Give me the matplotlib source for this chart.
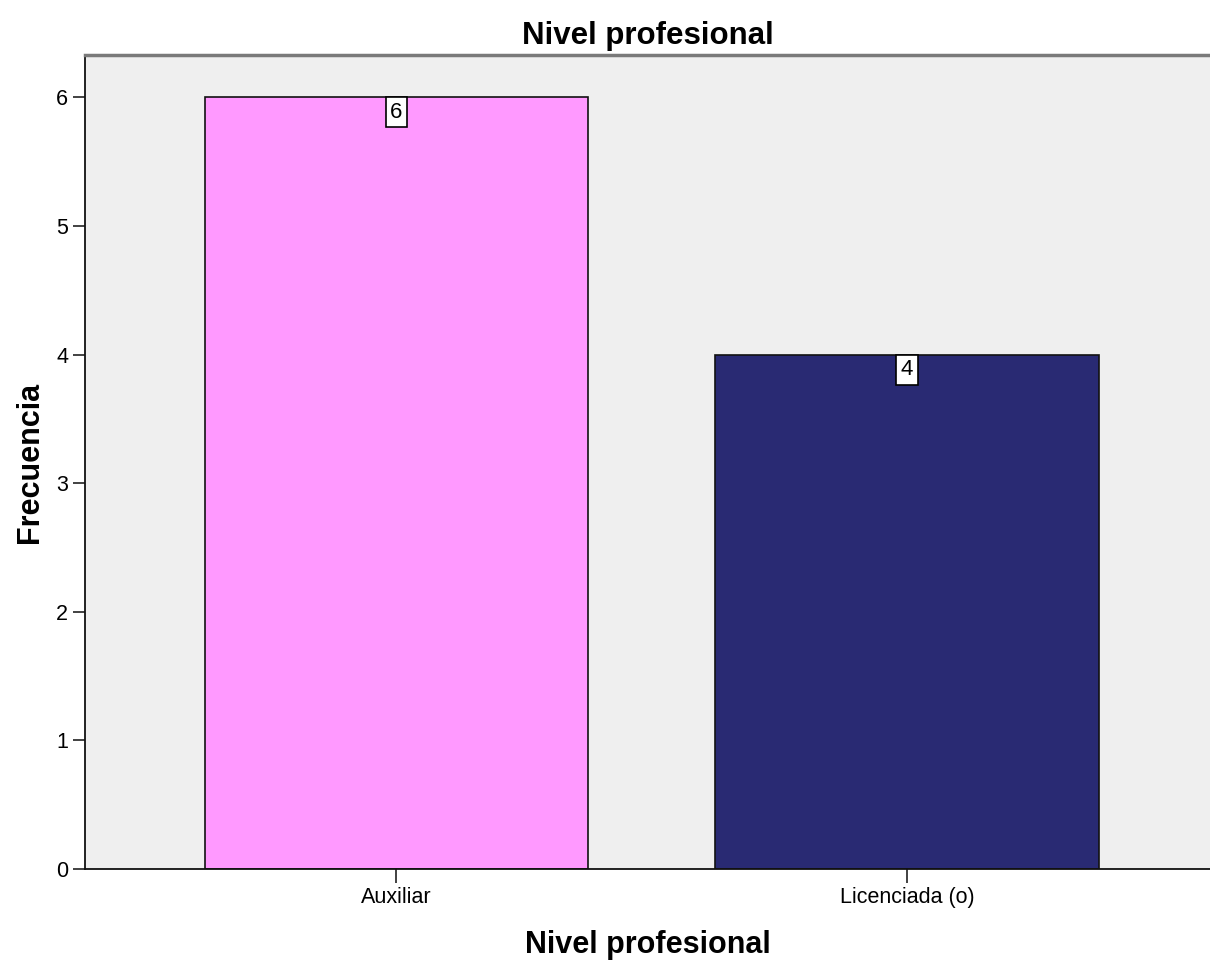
import matplotlib.pyplot as plt
import numpy as np

# data
categorias = ['Auxiliar', 'Licenciada (o)']
frecuencias = [6, 4]
colores = ['#FF99FF', '#292A73']

plt.rcParams['font.family'] = ['Liberation Sans', 'DejaVu Sans']

fig = plt.figure(figsize=(12.1, 9.61), dpi=100)
ax = fig.add_axes([85 / 1210, 1 - 869 / 961, 1 - 85 / 1210, (869 - 55) / 961])
ax.set_facecolor('#EFEFEF')

x = np.arange(len(categorias))
bars = ax.bar(x, frecuencias, width=0.75, color=colores, edgecolor='#111111', linewidth=1.2, zorder=2)

# value labels in small white boxes at the top of each bar
for xi, v in zip(x, frecuencias):
    ax.text(xi, v - 0.035, str(v), ha='center', va='top', fontsize=16, zorder=3,
            family=['Liberation Sans Narrow', 'Liberation Sans', 'DejaVu Sans'],
            bbox=dict(boxstyle='square,pad=0.2', facecolor='white', edgecolor='black', linewidth=1.2))

ax.set_xlim(-0.609, 1.593)
ax.set_ylim(0, 6.33)
ax.set_xticks(x)
ax.set_xticklabels(categorias, fontsize=15.5)
ax.set_yticks(range(0, 7))
ax.tick_params(axis='y', length=9, width=1.3, pad=3, labelsize=15.5, colors='#333333', labelcolor='black')
ax.tick_params(axis='x', length=10, width=1.3, pad=3, colors='#333333', labelcolor='black')

for side in ['left', 'bottom']:
    ax.spines[side].set_color('#111111')
    ax.spines[side].set_linewidth(1.3)
ax.spines['top'].set_color('#7A7A7A')
ax.spines['top'].set_linewidth(2.5)
ax.spines['right'].set_visible(False)

ax.set_title('Nivel profesional', fontsize=22.5, fontweight='bold', pad=8)
ax.set_xlabel('Nivel profesional', fontsize=22, fontweight='bold', labelpad=16)
ax.set_ylabel('Frecuencia', fontsize=22, fontweight='bold', labelpad=8)

fig.savefig('out.png', dpi=100)
